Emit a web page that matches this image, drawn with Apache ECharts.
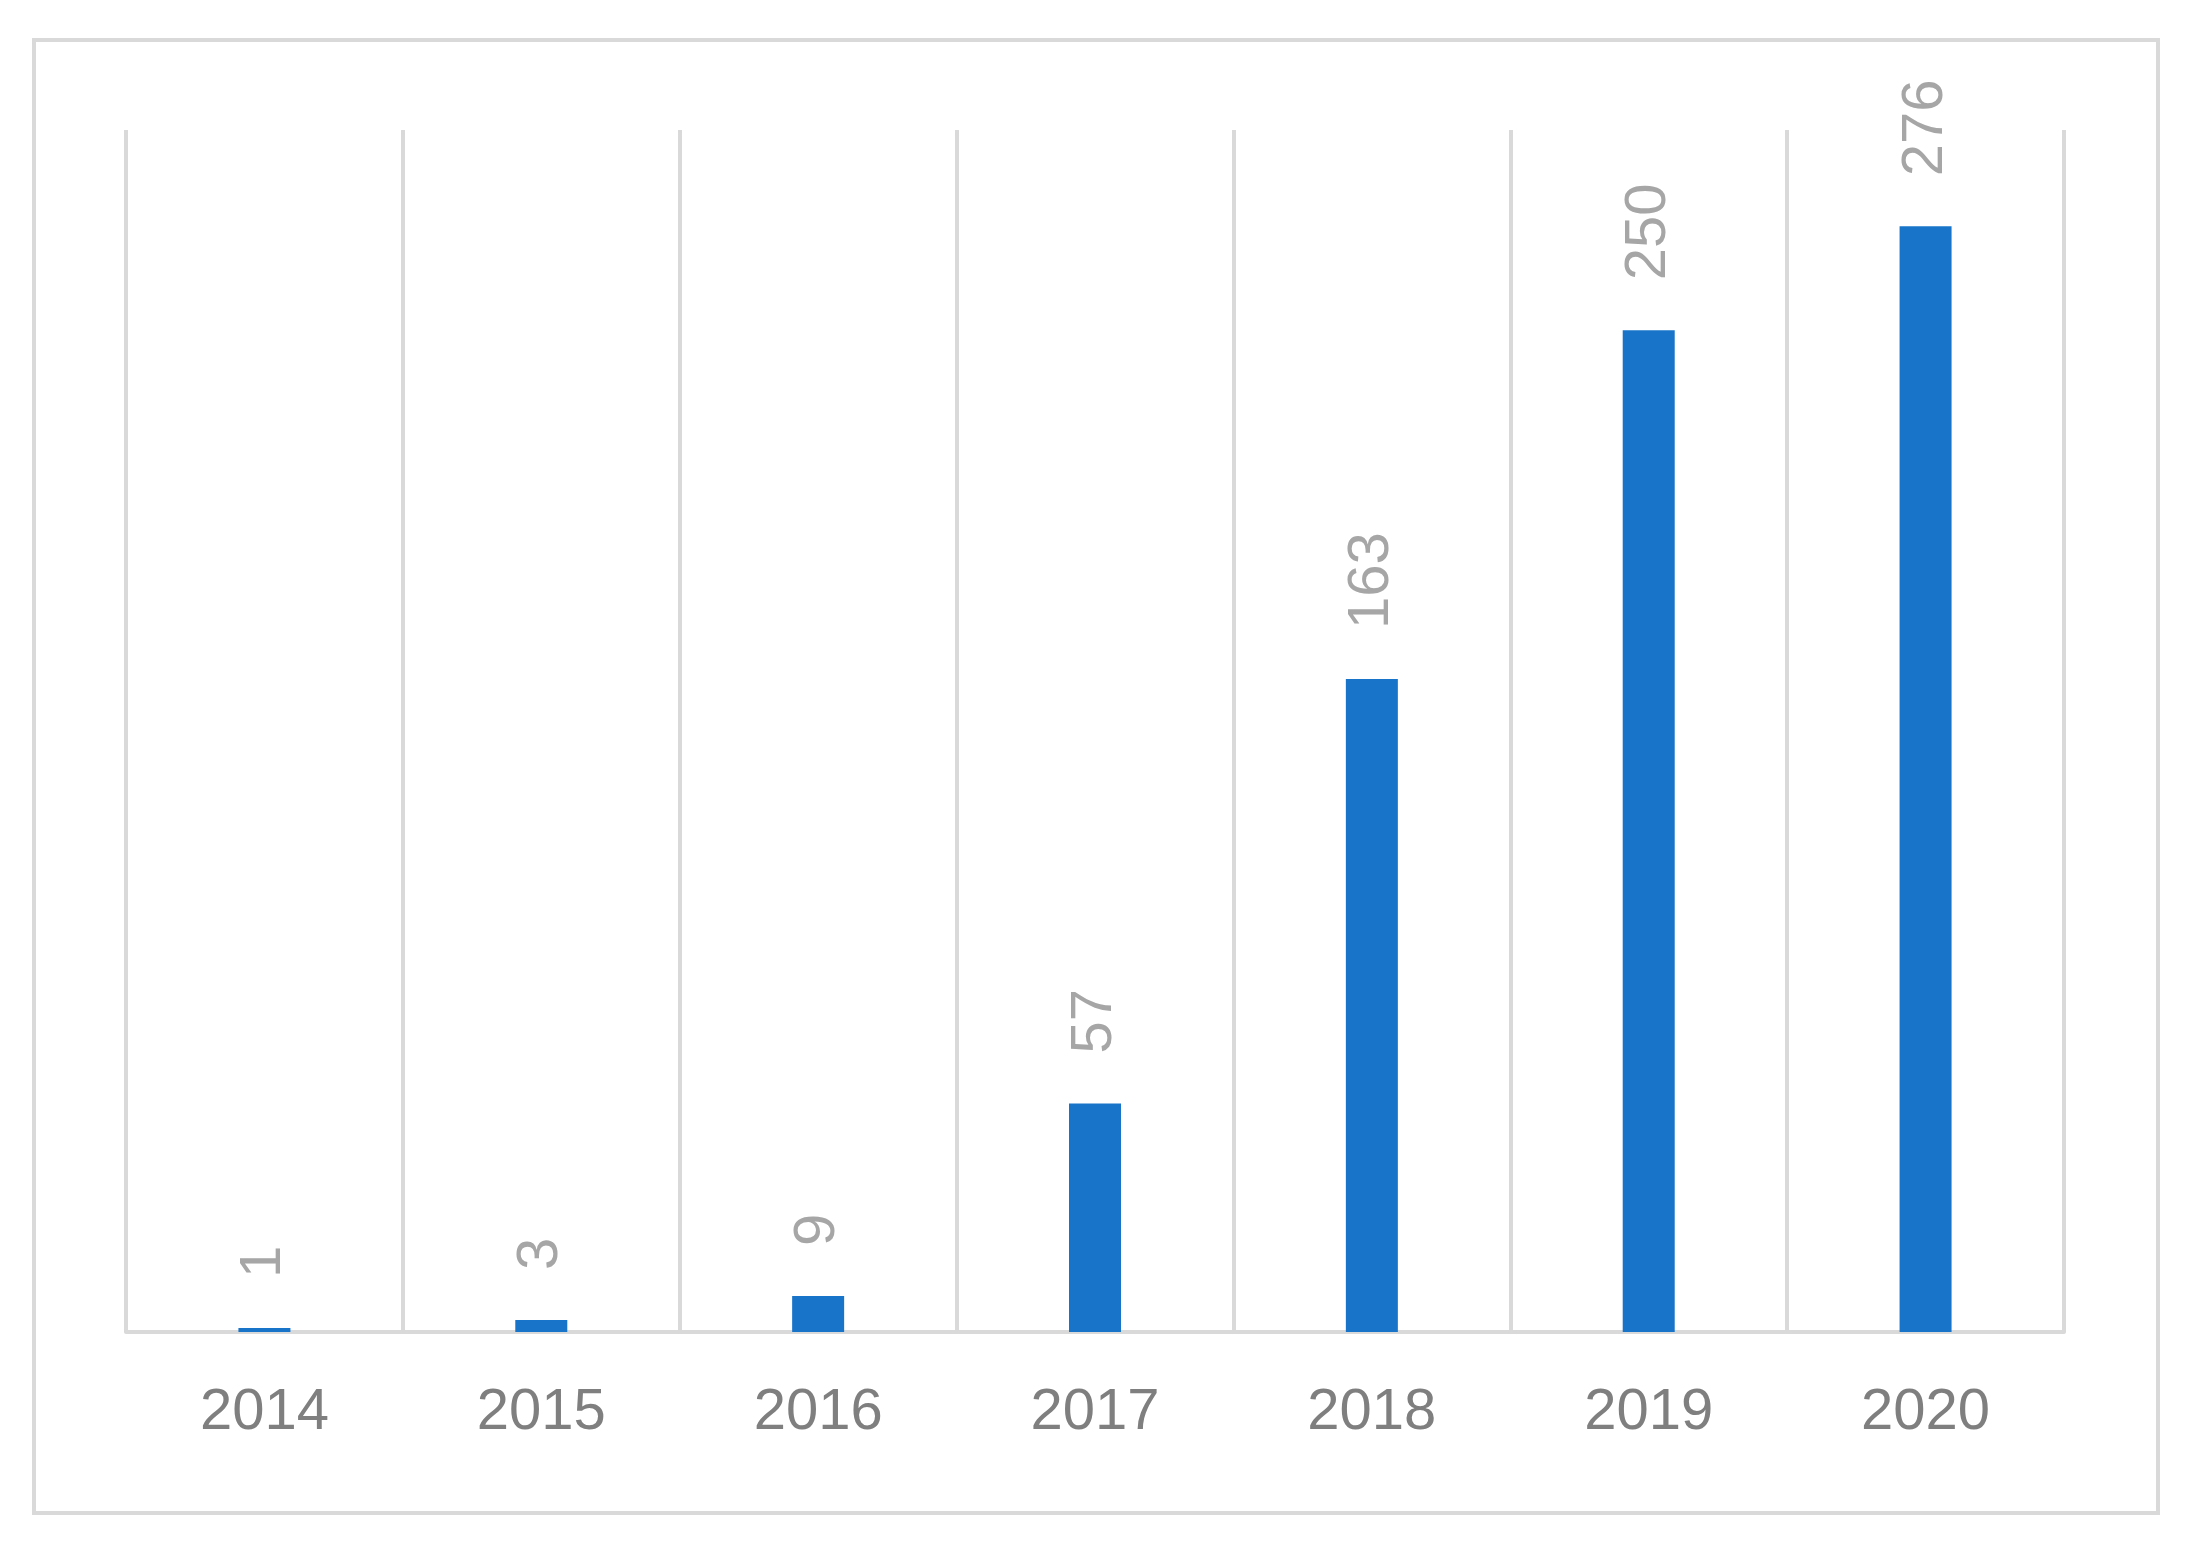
<!DOCTYPE html>
<html><head><meta charset="utf-8">
<script src="https://cdn.jsdelivr.net/npm/echarts@6/dist/echarts.min.js"></script>
<style>html,body{margin:0;padding:0;background:#fff}#c{width:2187px;height:1546px}</style>
</head><body><div id="c"></div>
<script>
const years = ['2014','2015','2016','2017','2018','2019','2020'];
const counts = [1,3,9,57,163,250,276];
const chart = echarts.init(document.getElementById('c'));
chart.setOption({
  animation:false,
  backgroundColor:'#fff',
  graphic:[{type:'rect',shape:{x:34,y:40,width:2124,height:1473},style:{fill:'none',stroke:'#d9d9d9',lineWidth:4}}],
  grid:{left:126,right:123,top:130,bottom:214},
  xAxis:{type:'category',data:years,
    axisLine:{lineStyle:{color:'#d9d9d9',width:4}},
    axisTick:{show:false},
    splitLine:{show:true,lineStyle:{color:'#d9d9d9',width:4}},
    axisLabel:{color:'#7f7f7f',fontSize:58,margin:52,fontFamily:'Liberation Sans'}},
  yAxis:{type:'value',min:0,max:300,show:false,splitLine:{show:false}},
  series:[{type:'bar',data:counts,barWidth:52,itemStyle:{color:'#1874c9'},
    label:{show:true,position:'top',rotate:90,align:'left',verticalAlign:'middle',distance:50,
      color:'#a6a6a6',fontSize:58,fontFamily:'Liberation Sans'}}]
});
</script></body></html>
